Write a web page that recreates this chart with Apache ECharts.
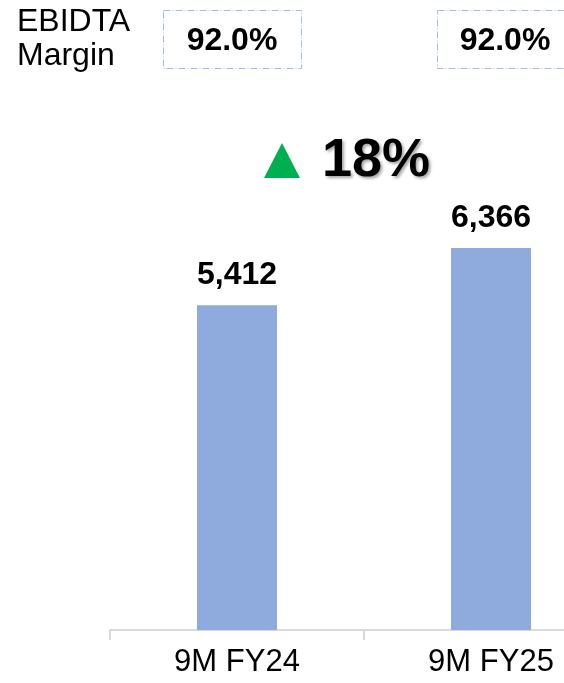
<!DOCTYPE html>
<html>
<head>
<meta charset="utf-8">
<script src="https://cdn.jsdelivr.net/npm/echarts@6/dist/echarts.min.js"></script>
<style>html,body{margin:0;padding:0;background:#fff}#c{width:564px;height:683px}</style>
</head>
<body>
<div id="c"></div>
<script>
const categories = ['9M FY24', '9M FY25'];
const values = [5412, 6366];
const margins = ['92.0%', '92.0%'];
const growthLabel = '18%';
const marginTitle = 'EBIDTA\nMargin';

const FONT = '"Liberation Sans", Arial, sans-serif';
const chart = echarts.init(document.getElementById('c'), null, {renderer: 'canvas'});
const boxStyle = {fill: 'none', stroke: '#a9bde3', lineWidth: 1, lineDash: [7, 2, 1, 2]};
chart.setOption({
  animation: false,
  backgroundColor: '#fff',
  grid: {left: 110, width: 508, top: 210, height: 420, containLabel: false, outerBoundsMode: 'none'},
  xAxis: {
    type: 'category',
    data: categories,
    axisLine: {lineStyle: {color: '#d9d9d9', width: 2}},
    axisTick: {show: true, alignWithLabel: false, length: 10, lineStyle: {color: '#d9d9d9', width: 2}},
    axisLabel: {fontFamily: FONT, fontSize: 31, color: '#000', margin: 17}
  },
  yAxis: {type: 'value', min: 0, max: 7000, show: false, splitLine: {show: false}},
  series: [{
    type: 'bar',
    data: values,
    barWidth: 80,
    itemStyle: {color: '#8faadc'},
    label: {
      show: true, position: 'top', distance: 14,
      fontFamily: FONT, fontSize: 32, fontWeight: 'bold', color: '#000',
      formatter: p => p.value.toLocaleString('en-US')
    }
  }],
  graphic: [
    {type: 'text', left: 17, top: 5, style: {text: marginTitle, font: '32px ' + FONT, fill: '#000', lineHeight: 34}},
    {type: 'rect', shape: {x: 163.5, y: 10.5, width: 138, height: 58}, style: boxStyle},
    {type: 'rect', shape: {x: 437.5, y: 10.5, width: 136, height: 58}, style: boxStyle},
    {type: 'text', x: 232, y: 41, style: {text: margins[0], font: 'bold 32px ' + FONT, fill: '#000', align: 'center', verticalAlign: 'middle'}},
    {type: 'text', x: 505, y: 41, style: {text: margins[1], font: 'bold 32px ' + FONT, fill: '#000', align: 'center', verticalAlign: 'middle'}},
    {type: 'polygon', shape: {points: [[282, 143], [300, 178], [264, 178]]}, style: {fill: '#00b050'}},
    {type: 'text', x: 322, y: 161, style: {text: growthLabel, font: 'bold 54px ' + FONT, fill: '#000', align: 'left', verticalAlign: 'middle', textShadowColor: 'rgba(0,0,0,0.35)', textShadowBlur: 3, textShadowOffsetX: 2, textShadowOffsetY: 2}}
  ]
});
</script>
</body>
</html>
